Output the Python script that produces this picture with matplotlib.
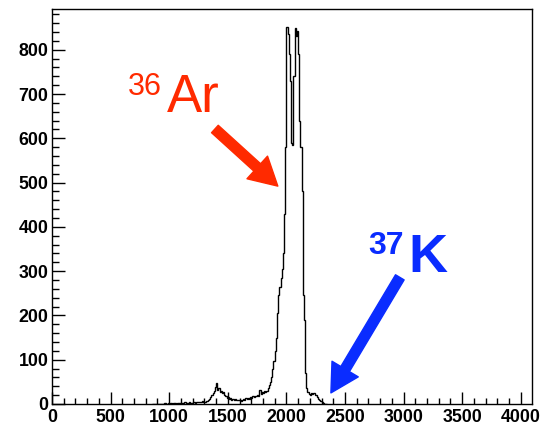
import matplotlib
matplotlib.use("Agg")
import matplotlib.pyplot as plt
import numpy as np

# histogram counts, 10-channel bins starting at channel 850
bin_start = 850
bin_width = 10
counts = [
    1, 0, 1, 0, 1, 1, 0, 1, 1, 0,            # 850-940
    1, 2, 1, 1, 2, 1, 2, 1, 2, 3,            # 950-1040
    2, 1, 2, 3, 2, 2, 3, 2, 4, 3,            # 1050-1140
    2, 3, 4, 3, 3, 4, 5, 3, 4, 5,            # 1150-1240
    4, 4, 5, 6, 4, 5, 6, 7, 9, 12,           # 1250-1340
    15, 20, 24, 30, 38, 47, 32, 36, 28, 30,  # 1350-1440
    24, 26, 20, 17, 14, 16, 12, 13, 10, 11,  # 1450-1540
    9, 11, 8, 10, 8, 9, 7, 9, 12, 9,         # 1550-1640
    13, 11, 14, 12, 16, 13, 17, 15, 19, 17,  # 1650-1740
    21, 19, 32, 22, 26, 24, 29, 27, 30, 35,  # 1750-1840
    42, 50, 62, 78, 96, 120, 150, 205, 245, 265,      # 1850-1940
    285, 305, 340, 430, 580, 852, 835, 790, 730, 590,  # 1950-2040
    585, 740, 848, 830, 843, 790, 640, 580, 480, 245,  # 2050-2140
    190, 70, 36, 27, 22, 20, 24, 22, 25, 20,  # 2150-2240
    21, 15, 12, 9, 6, 4, 2, 1, 1, 0,          # 2250-2340
]

x_ticks = [0, 500, 1000, 1500, 2000, 2500, 3000, 3500, 4000]
y_ticks = [0, 100, 200, 300, 400, 500, 600, 700, 800]
x_range = (0, 4096)
y_range = (0, 892)

# annotation anchors (data coords)
ar_tip, ar_tail = (1927, 492), (1390, 621)
k_tip, k_tail = (2380, 25), (2968, 286)

fig = plt.figure(figsize=(5.41, 4.24), dpi=100)
ax = fig.add_axes([0.0961, 0.0472, 0.8873, 0.9316])

edges = bin_start + bin_width * np.arange(len(counts) + 1)
ax.stairs(counts, edges, color="black", lw=1.0)

ax.set_xlim(*x_range)
ax.set_ylim(*y_range)
ax.set_xticks(x_ticks)
ax.set_yticks(y_ticks)
ax.set_xticks(np.arange(0, 4096, 100), minor=True)
ax.set_yticks(np.arange(0, 892, 20), minor=True)

lab_font = dict(family="Liberation Sans", weight="bold", size=12.8)
ax.set_xticklabels([str(t) for t in x_ticks], fontdict=lab_font)
ax.set_yticklabels([str(t) for t in y_ticks], fontdict=lab_font)

ax.tick_params(axis="x", which="major", direction="in", length=8.6, width=1, pad=3.5)
ax.tick_params(axis="x", which="minor", direction="in", length=4.3, width=1)
ax.tick_params(axis="y", which="major", direction="in", length=9.4, width=1, pad=2.5)
ax.tick_params(axis="y", which="minor", direction="in", length=5, width=1)
for s in ax.spines.values():
    s.set_linewidth(1)

red = "#ff2a00"
blue = "#0a2cff"

# 36Ar label and arrow
ax.text(648, 697, "36", color=red, fontsize=22, family="Liberation Sans",
        ha="left", va="baseline")
ax.text(981, 660, "Ar", color=red, fontsize=38, family="Liberation Sans",
        ha="left", va="baseline")
ax.annotate("", xy=ar_tip, xytext=ar_tail,
            arrowprops=dict(arrowstyle="simple,head_width=2.2,head_length=2.0,tail_width=0.72",
                            color=red, shrinkA=0, shrinkB=0, mutation_scale=10))

# 37K label and arrow
ax.text(2695, 338, "37", color=blue, fontsize=23, weight="bold",
        family="Liberation Sans", ha="left", va="baseline")
ax.text(3040, 297, "K", color=blue, fontsize=39, weight="bold",
        family="Liberation Sans", ha="left", va="baseline")
ax.annotate("", xy=k_tip, xytext=k_tail,
            arrowprops=dict(arrowstyle="simple,head_width=2.2,head_length=2.0,tail_width=0.72",
                            color=blue, shrinkA=0, shrinkB=0, mutation_scale=10))

fig.savefig("out.png", dpi=100)
